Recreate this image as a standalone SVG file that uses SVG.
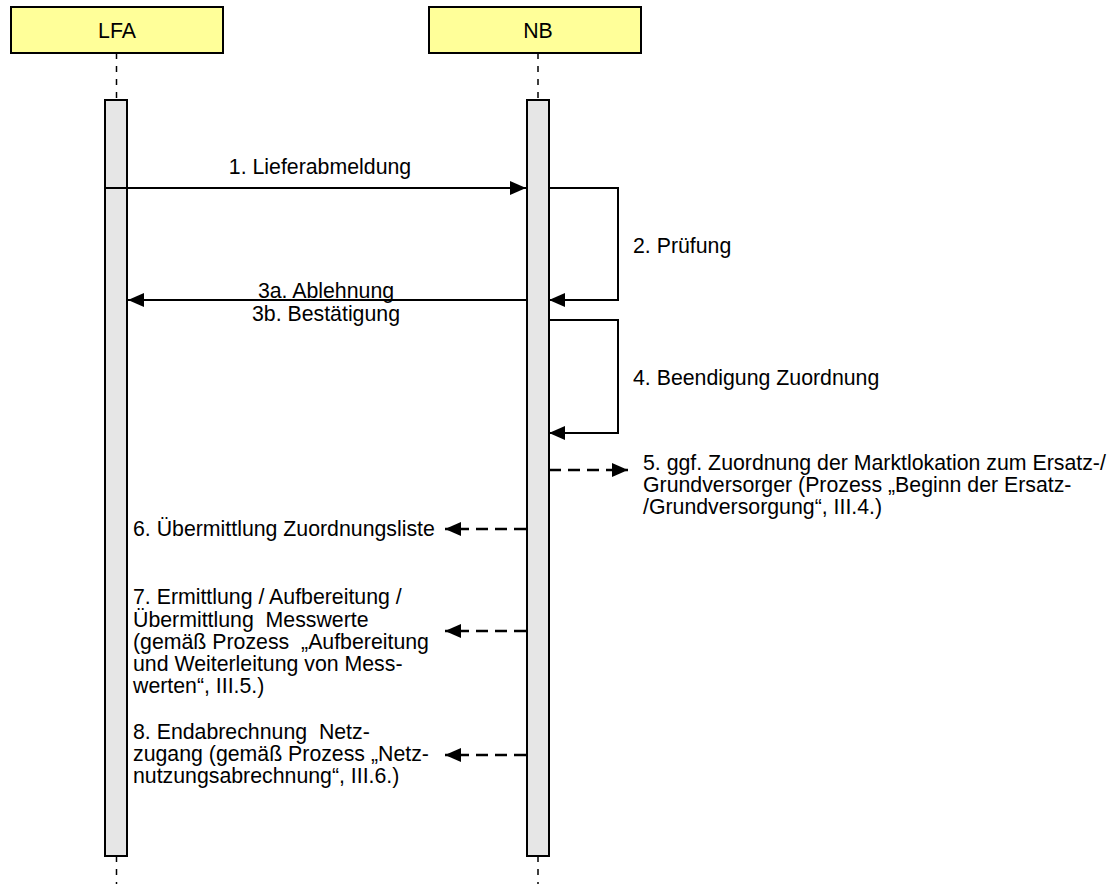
<svg xmlns="http://www.w3.org/2000/svg" width="1115" height="884" viewBox="0 0 1115 884">
<style>
.box{fill:#ffff99;stroke:#000;stroke-width:2}
.bar{fill:#e6e6e6;stroke:#000;stroke-width:2}
.life{stroke:#000;stroke-width:1.5;stroke-dasharray:6 7;fill:none}
.msg{stroke:#000;stroke-width:2;fill:none}
.dash{stroke:#000;stroke-width:2.5;fill:none;stroke-dasharray:12 7}
text{font-family:"Liberation Sans",Arial,sans-serif;font-size:21.3px;fill:#000}
.c{text-anchor:middle}
</style>
<defs>
<marker id="ah" markerWidth="16" markerHeight="14" refX="16" refY="7" orient="auto" markerUnits="userSpaceOnUse">
<path d="M0,0 L16,7 L0,14 Z" fill="#000"/>
</marker>
</defs>
<g id="lifelines">
<line class="life" x1="116.5" y1="53" x2="116.5" y2="100"/>
<line class="life" x1="116.5" y1="856" x2="116.5" y2="884"/>
<line class="life" x1="538" y1="53" x2="538" y2="100"/>
<line class="life" x1="538" y1="856" x2="538" y2="884"/>
</g>
<g id="LFA">
<rect class="box" x="11" y="7" width="212" height="46"/>
<text class="c" x="117" y="38">LFA</text>
</g>
<g id="NB">
<rect class="box" x="429" y="7" width="212" height="46"/>
<text class="c" x="538" y="38">NB</text>
</g>
<g id="LFA-activation">
<rect class="bar" x="105" y="100" width="22" height="756"/>
</g>
<g id="NB-activation">
<rect class="bar" x="527" y="100" width="22" height="756"/>
</g>
<g id="connectors">
<line class="msg" x1="105" y1="188" x2="526" y2="188" marker-end="url(#ah)"/>
<polyline class="msg" points="549,188 618,188 618,300 549,300" marker-end="url(#ah)"/>
<line class="msg" x1="526" y1="300" x2="128" y2="300" marker-end="url(#ah)"/>
<polyline class="msg" points="549,320 618,320 618,433 549,433" marker-end="url(#ah)"/>
<line class="dash" x1="549" y1="470" x2="628" y2="470" marker-end="url(#ah)"/>
<line class="dash" x1="526" y1="529" x2="445" y2="529" marker-end="url(#ah)"/>
<line class="dash" x1="526" y1="631" x2="445" y2="631" marker-end="url(#ah)"/>
<line class="dash" x1="526" y1="755" x2="445" y2="755" marker-end="url(#ah)"/>
</g>
<g id="labels">
<text class="c" x="320" y="174">1. Lieferabmeldung</text>
<text x="633" y="253">2. Prüfung</text>
<text class="c" x="326" y="298">3a. Ablehnung</text>
<text class="c" x="326" y="321">3b. Bestätigung</text>
<text x="633" y="385">4. Beendigung Zuordnung</text>
<text x="643" y="470">5. ggf. Zuordnung der Marktlokation zum Ersatz-/</text>
<text x="643" y="492">Grundversorger (Prozess „Beginn der Ersatz-</text>
<text x="643" y="514">/Grundversorgung“, III.4.)</text>
<text x="133" y="536">6. Übermittlung Zuordnungsliste</text>
<text x="133" y="604">7. Ermittlung / Aufbereitung /</text>
<text x="133" y="627" xml:space="preserve">Übermittlung  Messwerte</text>
<text x="133" y="649" xml:space="preserve">(gemäß Prozess  „Aufbereitung</text>
<text x="133" y="671">und Weiterleitung von Mess-</text>
<text x="133" y="693">werten“, III.5.)</text>
<text x="133" y="739" xml:space="preserve">8. Endabrechnung  Netz-</text>
<text x="133" y="761">zugang (gemäß Prozess „Netz-</text>
<text x="133" y="783">nutzungsabrechnung“, III.6.)</text>
</g>
</svg>
